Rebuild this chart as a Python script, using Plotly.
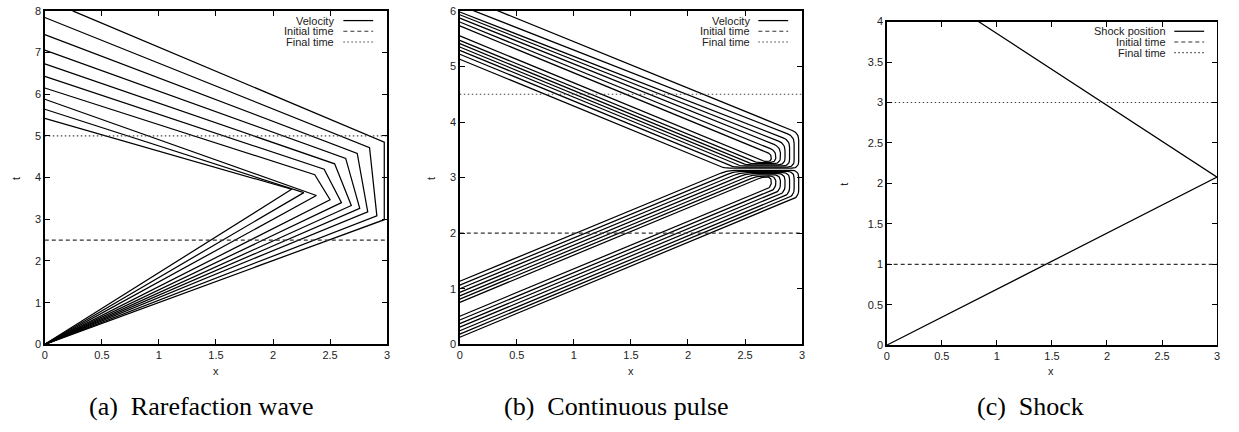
import plotly.graph_objects as go
import math

# ---------------- data ----------------
# (a) Rarefaction wave: each velocity line goes (0,0) -> P1 -> P2 -> end
rare_p1_x = [2.163, 2.27, 2.38, 2.50, 2.60, 2.686, 2.76, 2.83, 2.91, 2.975]
rare_p1_t = [3.72, 3.64, 3.57, 3.47, 3.40, 3.33, 3.26, 3.18, 3.08, 2.99]
rare_p2_x = [2.163, 2.27, 2.38, 2.366, 2.448, 2.54, 2.637, 2.738, 2.846, 2.975]
rare_p2_t = [3.72, 3.64, 3.57, 4.07, 4.20, 4.33, 4.46, 4.58, 4.72, 4.85]
rare_end_x = [0, 0, 0, 0, 0, 0, 0, 0, 0, 0.244]
rare_end_t = [5.42, 5.64, 5.88, 6.15, 6.43, 6.73, 7.06, 7.43, 7.84, 8.0]
rare_times = [2.5, 5.0]          # initial, final

# (b) Continuous pulse: contour families (outer -> inner)
pulse_slope = 0.85               # dt/dx of the characteristic bundles
pulse_lower_in = [0.128, 0.185, 0.244, 0.309, 0.372, 0.437, 0.506]
pulse_upper_in = [1.135, 1.065, 1.000, 0.936, 0.873, 0.814, 0.756]
pulse_low_turn_t = [3.13, 3.11, 3.09, 3.07, 3.05, 3.03, 3.01]
pulse_tip_x = [2.97, 2.93, 2.89, 2.85, 2.81, 2.77, 2.73]
pulse_lower_out = [5.13, 5.22, 5.29, 5.35, 5.41, 5.47, 5.55]
pulse_high_turn_t = [3.17, 3.19, 3.21, 3.23, 3.25, 3.27, 3.29]
pulse_upper_top = [3.80, 3.74, 3.67, 3.61, 3.55, 3.48, 3.42]
pulse_upper_out = [6.28, 6.10, 5.98, 5.93, 5.87, 5.80, 5.73]
pulse_times = [2.0, 4.5]

# (c) Shock
shock_x = [0.0, 3.0, 0.833]
shock_t = [0.0, 2.078, 4.0]
shock_times = [1.0, 3.0]

x_ticks = [0, 0.5, 1, 1.5, 2, 2.5, 3]
captions = ["(a)\u00a0\u00a0Rarefaction wave", "(b)\u00a0\u00a0Continuous pulse", "(c)\u00a0\u00a0Shock"]
legend_a = ["Velocity", "Initial time", "Final time"]
legend_c = ["Shock position", "Initial time", "Final time"]

# ---------------- layout geometry (pixels) ----------------
W, H = 1239, 432
panels = [  # left, right, top, bottom in px
    (42, 386, 5, 348),
    (459, 803, 5, 348),
    (888, 1220, 16, 349),
]
y_ranges = [(0, 8), (0, 6), (0, 4)]
y_dticks = [1, 1, 0.5]

def px(x):
    return x / W

def py(y):
    return 1 - y / H

fig = go.Figure()
LINE = dict(color="black", width=1.25)


def add(xs, ys, k, line=LINE):
    ax = "" if k == 0 else str(k + 1)
    fig.add_trace(go.Scatter(x=xs, y=ys, mode="lines", line=line,
                             xaxis="x" + ax, yaxis="y" + ax,
                             showlegend=False, hoverinfo="skip"))


def rounded(xs, ys, sx, sy, r=7.0, n=10):
    P = [(x * sx, y * sy) for x, y in zip(xs, ys)]
    out = [P[0]]
    for i in range(1, len(P) - 1):
        p0, p1, p2 = P[i - 1], P[i], P[i + 1]
        d1 = math.hypot(p0[0] - p1[0], p0[1] - p1[1])
        d2 = math.hypot(p2[0] - p1[0], p2[1] - p1[1])
        if d1 < 1e-9 or d2 < 1e-9:
            continue
        rr = min(r, d1 / 2, d2 / 2)
        a = (p1[0] + (p0[0] - p1[0]) * rr / d1, p1[1] + (p0[1] - p1[1]) * rr / d1)
        b = (p1[0] + (p2[0] - p1[0]) * rr / d2, p1[1] + (p2[1] - p1[1]) * rr / d2)
        for j in range(n + 1):
            u = j / n
            out.append(((1 - u) ** 2 * a[0] + 2 * u * (1 - u) * p1[0] + u ** 2 * b[0],
                        (1 - u) ** 2 * a[1] + 2 * u * (1 - u) * p1[1] + u ** 2 * b[1]))
    out.append(P[-1])
    return [q[0] / sx for q in out], [q[1] / sy for q in out]


# ---- panel (a)
for i in range(len(rare_p1_x)):
    add([0, rare_p1_x[i], rare_p2_x[i], rare_end_x[i]],
        [0, rare_p1_t[i], rare_p2_t[i], rare_end_t[i]], 0)

# ---- panel (b)
sxb = (panels[1][1] - panels[1][0]) / 3.0
syb = (panels[1][3] - panels[1][2]) / 6.0
s = pulse_slope
for k in range(len(pulse_lower_in)):
    a, c, h, xt = pulse_lower_in[k], pulse_upper_in[k], pulse_low_turn_t[k], pulse_tip_x[k]
    xf = (h - c) / s
    xs = [0, xt, xt, xf, 0]
    ts = [a, a + s * xt, h, h, c]
    xr, tr = rounded(xs, ts, sxb, syb, r=7)
    add(xr, tr, 1)
    b, g = pulse_lower_out[k], pulse_high_turn_t[k]
    top, d = pulse_upper_top[k], pulse_upper_out[k]
    xg = (b - g) / s
    xs = [0, xg, xt, xt, 0]
    ts = [b, g, g, top, d]
    xr, tr = rounded(xs, ts, sxb, syb, r=7)
    add(xr, tr, 1)

# ---- panel (c)
add(shock_x, shock_t, 2)

DASH = dict(color="#333", width=1.1, dash="4px,3px")
DOT = dict(color="#444", width=1.1, dash="1.5px,2.5px")
for k, tl in enumerate([rare_times, pulse_times, shock_times]):
    add([0, 3], [tl[0], tl[0]], k, DASH)
    add([0, 3], [tl[1], tl[1]], k, DOT)

# ---------------- axes ----------------
tickfont = dict(family="Liberation Sans, Arial, sans-serif", size=11, color="#222")
layout = dict(width=W, height=H, margin=dict(l=0, r=0, t=0, b=0),
              paper_bgcolor="white", plot_bgcolor="white", showlegend=False)
for k, (l, r, t, b) in enumerate(panels):
    ax = "" if k == 0 else str(k + 1)
    common = dict(showgrid=False, zeroline=False, showline=True, linecolor="black",
                  linewidth=1.4, mirror="ticks", ticks="inside", ticklen=5,
                  tickcolor="black", tickwidth=1, tickfont=tickfont)
    layout["xaxis" + ax] = dict(domain=[px(l), px(r)], range=[0, 3],
                                tickvals=x_ticks, ticktext=[f"{v:g}" for v in x_ticks],
                                anchor="y" + ax, **common)
    layout["yaxis" + ax] = dict(domain=[py(b), py(t)], range=list(y_ranges[k]),
                                dtick=y_dticks[k], tick0=0, anchor="x" + ax, **common)
fig.update_layout(**layout)

# ---------------- annotations: axis titles, legends, captions ----------------
lab = dict(family="Liberation Sans, Arial, sans-serif", size=11, color="#222")
x_title_x = [214, 631, 1053]
t_title_x = [13, 430, 845]
t_title_y = [177, 177, 183]
for k in range(3):
    fig.add_annotation(x=px(x_title_x[k]), y=py(375), xref="paper", yref="paper",
                       text="x", showarrow=False, font=lab, xanchor="center", yanchor="middle")
    fig.add_annotation(x=px(t_title_x[k]), y=py(t_title_y[k]), xref="paper", yref="paper",
                       text="t", showarrow=False, font=lab, textangle=-90,
                       xanchor="center", yanchor="middle")

legend_specs = [
    (legend_a, 335, 342, 372, [15, 26, 37]),
    (legend_a, 753, 759, 789, [15, 26, 37]),
    (legend_c, 1171, 1177, 1207, [26, 37, 48]),
]
styles = [dict(color="black", width=1.25), DASH, DOT]
for names, tx, x0, x1, ys in legend_specs:
    for name, yy, st in zip(names, ys, styles):
        fig.add_annotation(x=px(tx), y=py(yy), xref="paper", yref="paper", text=name,
                           showarrow=False, font=lab, xanchor="right", yanchor="middle")
        fig.add_shape(type="line", xref="paper", yref="paper",
                      x0=px(x0), x1=px(x1), y0=py(yy), y1=py(yy), line=st)

cap_font = dict(family="Liberation Serif, Times New Roman, serif", size=26, color="black")
cap_x = [199, 616, 1033]
for k in range(3):
    fig.add_annotation(x=px(cap_x[k]), y=py(412), xref="paper", yref="paper",
                       text=captions[k], showarrow=False, font=cap_font,
                       xanchor="center", yanchor="middle")

fig.write_html("out.html", config={"displayModeBar": False, "staticPlot": True},
               post_script="document.body.style.margin='0';document.body.style.overflow='hidden';")
